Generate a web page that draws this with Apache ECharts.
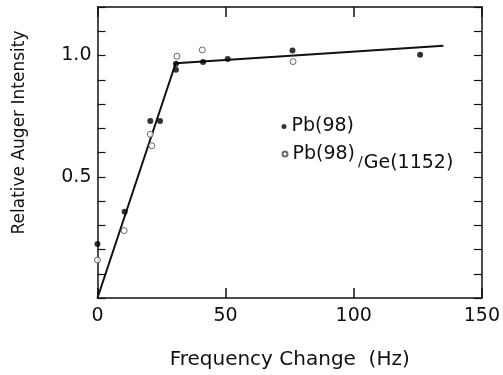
<!DOCTYPE html>
<html>
<head>
<meta charset="utf-8">
<script src="https://cdn.jsdelivr.net/npm/echarts@6/dist/echarts.min.js"></script>
<style>
  html, body { margin: 0; padding: 0; background: #fff; }
  #chart { width: 503px; height: 375px; }
</style>
</head>
<body>
<div id="chart"></div>
<script>
// filled dots: Pb(98)
const pbX = [0, 10.6, 20.6, 24.4, 30.6, 30.6, 41.2, 50.8, 76.1, 125.9]
const pbY = [0.223, 0.356, 0.73, 0.73, 0.966, 0.941, 0.973, 0.986, 1.021, 1.003]
// open circles: Pb(98)/Ge(1152)
const ratioX = [0, 10.4, 20.6, 21.2, 31.0, 40.9, 76.3]
const ratioY = [0.157, 0.278, 0.675, 0.628, 0.997, 1.023, 0.975]
// fitted line (two segments)
const fitX = [0, 30.5, 135]
const fitY = [0, 0.968, 1.04]
const xTicks = [0, 50, 100, 150]
const yLabelTicks = [0.5, 1.0]
const seriesNames = ['Pb(98)', 'Pb(98)/Ge(1152)']

const pair = (xs, ys) => xs.map((x, i) => [x, ys[i]])
const font = 'DejaVu Sans'
const ink = '#111'

const chart = echarts.init(document.getElementById('chart'))

const baseAxis = {
    axisLine: { show: true, onZero: false, lineStyle: { color: ink, width: 1.5 } },
    splitLine: { show: false }
}

const option = {
    backgroundColor: '#fff',
    animation: false,
    grid: { left: 97.5, right: 17, top: 7, bottom: 76 },
    legend: [
        {
            data: [seriesNames[0]],
            left: 281.5,
            top: 117,
            padding: 0,
            itemWidth: 5,
            itemHeight: 5,
            textStyle: { fontFamily: font, fontSize: 19, color: ink }
        },
        {
            data: [seriesNames[1]],
            left: 281.5,
            top: 144.5,
            padding: 0,
            itemWidth: 5,
            itemHeight: 5,
            formatter: (name) => {
                const parts = name.split('/')
                return '{a|' + parts[0] + '}{b|/}{c|' + parts[1] + '}'
            },
            textStyle: {
                fontFamily: font,
                fontSize: 19,
                color: ink,
                rich: {
                    a: { fontFamily: font, fontSize: 19, color: ink, padding: [9, 0, 0, 0], verticalAlign: 'top' },
                    b: { fontFamily: font, fontSize: 14, color: ink, padding: [20, 1, 0, 3], verticalAlign: 'top' },
                    c: { fontFamily: font, fontSize: 19, color: ink, padding: [18, 0, 0, 0], verticalAlign: 'top' }
                }
            }
        }
    ],
    xAxis: [
        {
            ...baseAxis,
            type: 'value',
            min: 0,
            max: 150,
            interval: 50,
            name: 'Frequency Change  (Hz)',
            nameLocation: 'middle',
            nameGap: 52,
            nameTextStyle: { fontFamily: font, fontSize: 20, color: ink },
            axisTick: { show: true, inside: true, length: 10, lineStyle: { color: ink, width: 1.5 } },
            axisLabel: {
                margin: 9,
                fontFamily: font,
                fontSize: 19,
                color: ink,
                formatter: (v) => (xTicks.includes(v) ? String(v) : '')
            }
        },
        {
            ...baseAxis,
            type: 'value',
            position: 'top',
            min: 0,
            max: 150,
            interval: 50,
            axisTick: { show: true, inside: true, length: 10, lineStyle: { color: ink, width: 1.5 } },
            axisLabel: { show: false }
        }
    ],
    yAxis: [
        {
            ...baseAxis,
            type: 'value',
            min: 0,
            max: 1.2,
            interval: 0.1,
            name: 'Relative Auger Intensity',
            nameLocation: 'middle',
            nameGap: 69,
            nameTextStyle: { fontFamily: font, fontSize: 17, color: ink, padding: [0, 0, 0, 40] },
            axisTick: { show: true, inside: true, length: 8, lineStyle: { color: ink, width: 1.2 } },
            axisLabel: {
                margin: 6,
                fontFamily: font,
                fontSize: 19,
                color: ink,
                formatter: (v) => (yLabelTicks.some((t) => Math.abs(t - v) < 1e-6) ? v.toFixed(1) : '')
            }
        },
        {
            ...baseAxis,
            type: 'value',
            position: 'right',
            min: 0,
            max: 1.2,
            interval: 0.1,
            axisTick: { show: true, inside: true, length: 8, lineStyle: { color: ink, width: 1.2 } },
            axisLabel: { show: false }
        }
    ],
    series: [
        {
            name: 'fit',
            type: 'line',
            data: pair(fitX, fitY),
            showSymbol: false,
            symbol: 'none',
            lineStyle: { color: ink, width: 2 },
            z: 1
        },
        {
            name: seriesNames[0],
            type: 'scatter',
            data: pair(pbX, pbY),
            symbol: 'circle',
            symbolSize: 6,
            itemStyle: { color: '#000' },
            z: 3
        },
        {
            name: seriesNames[1],
            type: 'scatter',
            data: pair(ratioX, ratioY),
            symbol: 'circle',
            symbolSize: 6,
            itemStyle: { color: '#fff', borderColor: '#444', borderWidth: 1 },
            z: 2
        }
    ]
}

chart.setOption(option)
</script>
</body>
</html>
